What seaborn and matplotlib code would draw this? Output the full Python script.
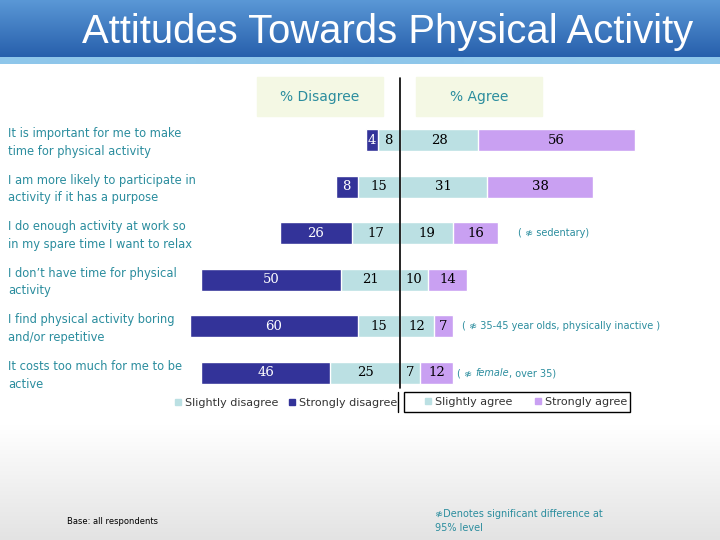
import numpy as np
import pandas as pd
import seaborn as sns
import matplotlib.pyplot as plt
import matplotlib.transforms as mtransforms
from matplotlib.patches import Patch, Rectangle
from matplotlib.lines import Line2D

# datos
statements = ["It is important for me to make\ntime for physical activity",
              "I am more likely to participate in\nactivity if it has a purpose",
              "I do enough activity at work so\nin my spare time I want to relax",
              "I don\u2019t have time for physical\nactivity",
              "I find physical activity boring\nand/or repetitive",
              "It costs too much for me to be\nactive"]
strongly_disagree = [4, 8, 26, 50, 60, 46]
slightly_disagree = [8, 15, 17, 21, 15, 25]
slightly_agree = [28, 31, 19, 10, 12, 7]
strongly_agree = [56, 38, 16, 14, 7, 12]

c_strong_dis = "#333399"
c_slight = "#bbe0e3"
c_strong_agr = "#c9a0f2"
teal = "#2b8d9e"
sig = "\u2249"

df = pd.DataFrame({"statement": statements,
                   "sd": strongly_disagree, "d": slightly_disagree,
                   "a": slightly_agree, "sa": strongly_agree})

sns.set_style("white")
plt.rcParams['font.family'] = ['DejaVu Sans']

fig = plt.figure(figsize=(7.2, 5.4), dpi=100)

#%% fondo: banda azul arriba y gris abajo
bg = fig.add_axes([0, 0, 1, 1], zorder=-10)
img = np.ones((540, 1, 3))
top = np.array([0x5a, 0x98, 0xd6]) / 255
bot = np.array([0x27, 0x5f, 0xac]) / 255
for i in range(57):
    t = i / 56
    img[i, 0] = top * (1 - t) + bot * t
img[57:64, 0] = np.array([0x8e, 0xc6, 0xea]) / 255
for i in range(425, 540):
    t = (i - 425) / 115
    img[i, 0] = 1 - 0.11 * t
bg.imshow(img, aspect="auto", extent=[0, 1, 0, 1], interpolation="bilinear")
bg.axis("off")

fig.text(82 / 720, 1 - 32 / 540, "Attitudes Towards Physical Activity",
         color="white", fontsize=28.8, family="Liberation Sans",
         ha="left", va="center")

#%% grafica principal
ax = fig.add_axes([120 / 720, 1 - 396.3 / 540, 560 / 720, 279.6 / 540])
ax.patch.set_alpha(0)

bw = 0.47
sns.barplot(x=-(df.sd + df.d), y=df.statement, orient="h", color=c_strong_dis,
            saturation=1, width=bw, edgecolor="white", linewidth=1, ax=ax)
sns.barplot(x=-df.d, y=df.statement, orient="h", color=c_slight,
            saturation=1, width=bw, edgecolor="white", linewidth=1, ax=ax)
sns.barplot(x=df.a + df.sa, y=df.statement, orient="h", color=c_strong_agr,
            saturation=1, width=bw, edgecolor="white", linewidth=1, ax=ax)
sns.barplot(x=df.a, y=df.statement, orient="h", color=c_slight,
            saturation=1, width=bw, edgecolor="white", linewidth=1, ax=ax)

for i, r in df.iterrows():
    kw = dict(ha="center", va="center", fontsize=9.5, family="DejaVu Serif")
    ax.text(-(r.d + r.sd / 2), i, str(r.sd), color="white", **kw)
    ax.text(-r.d / 2, i, str(r.d), color="black", **kw)
    ax.text(r.a / 2, i, str(r.a), color="black", **kw)
    ax.text(r.a + r.sa / 2, i, str(r.sa), color="black", **kw)

ax.set_xlim(-100, 100)
ax.set_ylim(5.5, -0.5)
ax.set_xticks([])
ax.set_yticks([])
ax.set_xlabel("")
ax.set_ylabel("")
sns.despine(ax=ax, left=True, bottom=True)
ax.axvline(0, ymin=0.03, ymax=1.14, color="black", lw=1.2, clip_on=False)

# textos de las filas
tr = mtransforms.blended_transform_factory(fig.transFigure, ax.transData)
for i, s in enumerate(statements):
    ax.text(8 / 720, i + 0.05, s, transform=tr, ha="left", va="center",
            color=teal, fontsize=8.3, linespacing=1.45)

# notas de significancia
nk = dict(color=teal, fontsize=7, va="center", ha="left")
ax.text(42, 2, "( " + sig + " sedentary)", **nk)
ax.text(22, 4, "( " + sig + " 35-45 year olds, physically inactive )", **nk)
t1 = ax.text(20.5, 5, "( " + sig + " ", **nk)
t2 = ax.annotate("female", xy=(1, 0), xycoords=t1, va="bottom", ha="left",
                 color=teal, fontsize=7, style="italic")
ax.annotate(", over 35)", xy=(1, 0), xycoords=t2, va="bottom", ha="left",
            color=teal, fontsize=7)

#%% encabezados
for x0, x1, lab in [(257, 383, "% Disagree"), (416, 542, "% Agree")]:
    fig.add_artist(Rectangle((x0 / 720, 1 - 116 / 540), (x1 - x0) / 720, 39 / 540,
                             transform=fig.transFigure, color="#f4f8e4", zorder=-5))
    fig.text((x0 + x1) / 2 / 720, 1 - 97 / 540, lab, ha="center", va="center",
             color=teal, fontsize=10)

#%% leyendas
h_left = [Patch(color=c_slight, label="Slightly disagree"),
          Patch(color=c_strong_dis, label="Strongly disagree")]
h_right = [Patch(color=c_slight, label="Slightly agree"),
           Patch(color=c_strong_agr, label="Strongly agree")]
leg_kw = dict(ncol=2, fontsize=8.0, handlelength=0.55, handleheight=0.55,
              handletextpad=0.35, borderpad=0.3, labelcolor="#333333",
              frameon=False)
fig.legend(handles=h_left, loc="center", bbox_to_anchor=(286 / 720, 1 - 403 / 540),
           columnspacing=0.9, **leg_kw)
fig.legend(handles=h_right, loc="center", bbox_to_anchor=(526 / 720, 1 - 402 / 540),
           columnspacing=2.1, **leg_kw)
fig.add_artist(Rectangle((404 / 720, 1 - 412 / 540), 226 / 720, 20 / 540,
                         transform=fig.transFigure, fill=False,
                         edgecolor="black", lw=1))
fig.add_artist(Line2D([397.5 / 720, 397.5 / 720], [1 - 412 / 540, 1 - 392 / 540],
                      color="black", lw=1, transform=fig.transFigure))

#%% pie
fig.text(67 / 720, 1 - 522 / 540, "Base: all respondents", fontsize=6,
         color="black", va="center")
fig.text(435 / 720, 1 - 521 / 540, sig + "Denotes significant difference at\n95% level",
         fontsize=7, color=teal, va="center", linespacing=1.4)

fig.savefig("out.png", dpi=100)
